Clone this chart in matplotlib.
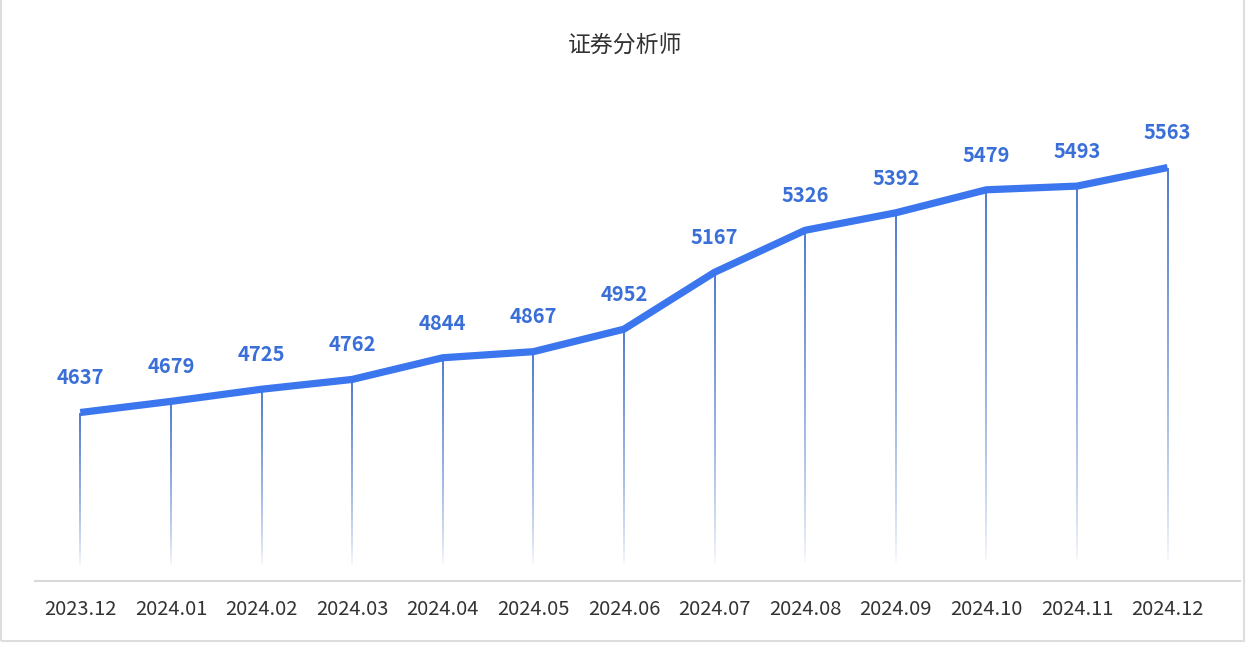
import numpy as np
import matplotlib.pyplot as plt
from matplotlib.collections import LineCollection
from matplotlib.patches import Rectangle

plt.rcParams['font.family'] = ['Noto Sans CJK SC', 'DejaVu Sans']

months = ['2023.12', '2024.01', '2024.02', '2024.03', '2024.04', '2024.05', '2024.06',
          '2024.07', '2024.08', '2024.09', '2024.10', '2024.11', '2024.12']
analysts = [4637, 4679, 4725, 4762, 4844, 4867, 4952, 5167, 5326, 5392, 5479, 5493, 5563]
title = '证券分析师'

line_color = '#3b76ee'
label_color = '#3a6fd8'
drop_rgb = np.array([0.26, 0.44, 0.78])

fig = plt.figure(figsize=(12.51, 6.45), dpi=100)
ax = fig.add_axes([35 / 1251, 1 - 581 / 645, (1240 - 35) / 1251, (581 - 52) / 645])

x = np.arange(len(months))
y_min, y_max = 4000, 6000

# drop lines with a fade towards the bottom
n_seg = 60
for xi, v in zip(x, analysts):
    ys = np.linspace(y_min + 50, v, n_seg + 1)
    segs = [[(xi, ys[k]), (xi, ys[k + 1])] for k in range(n_seg)]
    t = np.linspace(0, 1, n_seg)  # 0 bottom -> 1 top
    cols = np.zeros((n_seg, 4))
    cols[:, :3] = drop_rgb
    cols[:, 3] = np.clip(t, 0, 1) ** 0.7
    ax.add_collection(LineCollection(segs, colors=cols, linewidths=1.3, zorder=2))

ax.plot(x, analysts, color=line_color, lw=5.2, solid_capstyle='butt', zorder=3)

for xi, v in zip(x, analysts):
    ax.annotate(str(v), (xi, v), xytext=(0, 25), textcoords='offset points',
                ha='center', va='center', fontsize=14.5, fontweight='bold',
                color=label_color)

ax.set_xlim(-0.5, 12.8)
ax.set_ylim(y_min, y_max)
ax.set_xticks(x)
ax.set_xticklabels(months, fontsize=14.5, color='#333333')
ax.tick_params(axis='x', length=0, pad=13)
ax.set_yticks([])
for s in ['top', 'right', 'left']:
    ax.spines[s].set_visible(False)
ax.spines['bottom'].set_color('#d9d9d9')
ax.spines['bottom'].set_linewidth(1.5)

fig.text(0.5, 1 - 45 / 645, title, ha='center', va='center', fontsize=16.5,
         color='#333333')

# thin frame around the picture (no top edge)
fig.patches.append(Rectangle((1 / 1251, 4 / 645), 1243 / 1251, 1.0, transform=fig.transFigure,
                             fill=False, edgecolor='#dddddd', lw=1.5))

fig.savefig('out.png', dpi=100)
